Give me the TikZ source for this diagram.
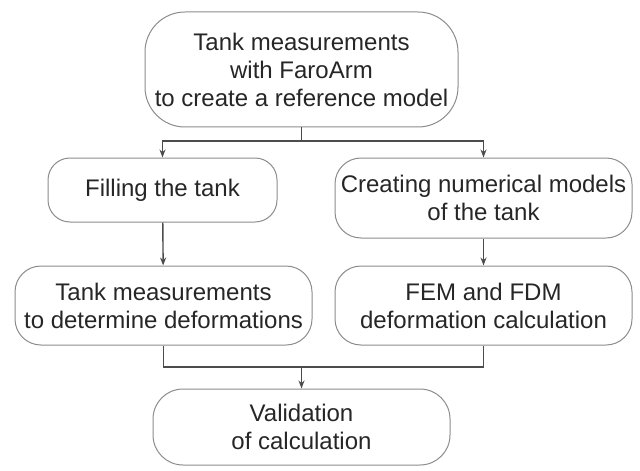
\documentclass[tikz,border=0pt]{standalone}
\usepackage{fontspec}
\setmainfont{Liberation Sans}
\usetikzlibrary{arrows.meta}

\begin{document}
\begin{tikzpicture}[x=1pt, y=1pt,
  box/.style={draw=black!45, line width=0.5pt, rounded corners=13pt, align=center,
    minimum width=148.5pt, minimum height=39.5pt, inner sep=1pt,
    font=\fontsize{12}{14}\selectfont, text=black!85},
  link/.style={draw=black!70, line width=0.7pt},
  >={Stealth[length=4pt, width=3pt]}]
\useasboundingbox (0,0) rectangle (320,-235);
\node[box, rounded corners=20pt, minimum width=156.5pt, minimum height=57.5pt] (a) at (150.75, -34.75)
  {Tank measurements\\with FaroArm\\to create a reference model};
\node[box, minimum width=114.5pt, minimum height=32pt, rounded corners=11pt] (b) at (81.25, -95) {Filling the tank};
\node[box, minimum height=40pt] (c) at (241.75, -99) {Creating numerical models\\of the tank};
\node[box] (d) at (81.75, -152.75) {Tank measurements\\to determine deformations};
\node[box] (e) at (241.75, -152.75) {FEM and FDM\\deformation calculation};
\node[box, minimum height=38pt, rounded corners=15pt] (f) at (150.75, -213.5) {Validation\\of calculation};
\coordinate (s) at (150.75, -70.5);
\coordinate (t) at (150.75, -183.5);
\draw[link] (a) -- (s);
\foreach \from/\to in {s/b, s/c}
\draw[link, ->] (\from) -| (\to);
\draw[link, ->] (b) -- (d);
\draw[link, ->] (c) -- (e);
\foreach \from in {d, e}
\draw[link] (\from) |- (t);
\draw[link, ->] (t) -- (f);
\end{tikzpicture}
\end{document}
